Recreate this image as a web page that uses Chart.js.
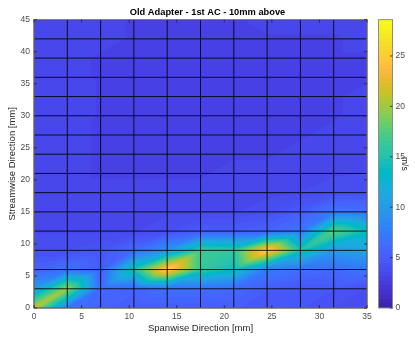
<!DOCTYPE html>
<html>
<head>
<meta charset="utf-8">
<script src="https://cdn.jsdelivr.net/npm/chart.js@4.4.1/dist/chart.umd.min.js"></script>
<style>
  html, body { margin: 0; padding: 0; background: #fff; }
  canvas { display: block; }
</style>
</head>
<body>
<canvas id="chart" width="415" height="340"></canvas>
<script>
// measurement grid [mm]
const xNodes = [0, 3.5, 7, 10.5, 14, 17.5, 21, 24.5, 28, 31.5, 35];
const yNodes = [0, 3, 6, 9, 12, 15, 18, 21, 24, 27, 30, 33, 36, 39, 42, 45];

// velocity magnitude [m/s], one row per streamwise position (y = 0, 3, 6 ...)
const speed = [
  [21.0, 7.0, 5.5, 5.0, 5.0, 5.0, 5.0, 4.5, 4.5, 4.0, 4.0],   // y = 0
  [10.0, 20.0, 6.0, 5.5, 6.5, 6.5, 6.0, 5.0, 4.5, 4.5, 4.0],  // y = 3
  [5.5, 6.5, 5.0, 15.0, 26.0, 16.0, 14.0, 7.5, 6.5, 6.0, 7.0], // y = 6
  [4.0, 4.0, 4.5, 6.0, 9.5, 16.5, 16.0, 26.0, 15.0, 10.0, 11.0], // y = 9
  [3.5, 3.5, 3.5, 3.5, 4.0, 5.0, 5.0, 5.5, 7.0, 18.0, 14.0],  // y = 12
  [3.5, 3.5, 3.5, 3.5, 3.5, 3.5, 3.5, 4.0, 5.0, 7.0, 6.5],    // y = 15
  [3.3, 3.2, 3.2, 3.2, 3.2, 3.2, 3.3, 3.4, 3.6, 4.0, 4.0],    // y = 18
  [3.3, 3.2, 3.1, 3.1, 3.1, 3.1, 3.2, 3.2, 3.3, 3.5, 3.6],    // y = 21
  [3.4, 3.2, 3.1, 3.0, 3.0, 3.1, 3.1, 3.1, 3.2, 3.3, 3.4],    // y = 24
  [3.3, 3.2, 3.1, 3.0, 3.0, 3.0, 3.1, 3.1, 3.1, 3.2, 3.2],    // y = 27
  [3.6, 3.3, 3.1, 3.0, 3.0, 3.0, 3.0, 3.1, 3.1, 3.1, 3.2],    // y = 30
  [3.5, 3.3, 3.1, 3.0, 3.0, 3.0, 3.0, 3.0, 3.1, 3.1, 3.2],    // y = 33
  [3.4, 3.2, 3.1, 3.0, 3.0, 3.0, 3.0, 3.0, 3.0, 3.1, 3.1],    // y = 36
  [3.4, 3.2, 3.1, 3.1, 3.0, 3.0, 3.0, 3.0, 3.0, 3.1, 3.1],    // y = 39
  [3.5, 3.3, 3.2, 3.1, 3.1, 3.0, 3.0, 3.1, 3.1, 3.1, 3.2],    // y = 42
  [3.5, 3.3, 3.2, 3.1, 3.1, 3.1, 3.1, 3.2, 3.2, 3.2, 3.3]     // y = 45
];

const xTicks = [0, 5, 10, 15, 20, 25, 30, 35];
const yTicks = [0, 5, 10, 15, 20, 25, 30, 35, 40, 45];
const cbTicks = [0, 5, 10, 15, 20, 25];
const cMin = 0;
const cMax = 28.6;

// parula, 64 entries
const parula = [
  [0.2422,0.1504,0.6603],[0.2504,0.1650,0.7076],[0.2578,0.1818,0.7511],[0.2647,0.1978,0.7952],
  [0.2706,0.2147,0.8364],[0.2751,0.2342,0.8710],[0.2783,0.2559,0.8991],[0.2803,0.2782,0.9221],
  [0.2813,0.3006,0.9414],[0.2810,0.3228,0.9579],[0.2795,0.3447,0.9717],[0.2760,0.3667,0.9829],
  [0.2699,0.3892,0.9906],[0.2602,0.4123,0.9952],[0.2440,0.4358,0.9988],[0.2206,0.4603,0.9973],
  [0.1963,0.4847,0.9892],[0.1834,0.5074,0.9798],[0.1786,0.5289,0.9682],[0.1764,0.5499,0.9520],
  [0.1687,0.5703,0.9359],[0.1540,0.5902,0.9218],[0.1460,0.6091,0.9079],[0.1380,0.6276,0.8973],
  [0.1248,0.6459,0.8883],[0.1113,0.6635,0.8763],[0.0952,0.6798,0.8598],[0.0689,0.6948,0.8394],
  [0.0297,0.7082,0.8163],[0.0036,0.7203,0.7917],[0.0067,0.7312,0.7660],[0.0433,0.7411,0.7394],
  [0.0964,0.7500,0.7120],[0.1408,0.7584,0.6842],[0.1717,0.7670,0.6554],[0.1938,0.7758,0.6251],
  [0.2161,0.7843,0.5923],[0.2470,0.7918,0.5567],[0.2906,0.7973,0.5188],[0.3406,0.8008,0.4789],
  [0.3909,0.8029,0.4354],[0.4456,0.8024,0.3909],[0.5044,0.7993,0.3480],[0.5616,0.7942,0.3045],
  [0.6174,0.7876,0.2612],[0.6720,0.7793,0.2227],[0.7242,0.7698,0.1910],[0.7738,0.7598,0.1646],
  [0.8203,0.7498,0.1535],[0.8634,0.7406,0.1596],[0.9035,0.7330,0.1774],[0.9393,0.7288,0.2100],
  [0.9728,0.7298,0.2394],[0.9956,0.7434,0.2371],[0.9970,0.7659,0.2199],[0.9952,0.7893,0.2028],
  [0.9892,0.8136,0.1885],[0.9786,0.8386,0.1766],[0.9676,0.8639,0.1643],[0.9610,0.8890,0.1537],
  [0.9597,0.9135,0.1423],[0.9628,0.9373,0.1265],[0.9691,0.9606,0.1064],[0.9769,0.9839,0.0805]
];

const FONT = "'Liberation Sans', Arial, Helvetica, sans-serif";

function colorOf(v) {
  let k = Math.floor((v - cMin) / (cMax - cMin) * parula.length);
  k = Math.max(0, Math.min(parula.length - 1, k));
  return parula[k];
}

// value inside a mesh cell, each quad split into two triangles along
// the lower-left -> upper-right diagonal (gouraud style)
function sample(xv, yv) {
  xv = Math.max(xNodes[0], Math.min(xNodes[xNodes.length - 1], xv));
  yv = Math.max(yNodes[0], Math.min(yNodes[yNodes.length - 1], yv));
  let i = 0;
  while (i < xNodes.length - 2 && xv > xNodes[i + 1]) i++;
  let j = 0;
  while (j < yNodes.length - 2 && yv > yNodes[j + 1]) j++;
  const u = (xv - xNodes[i]) / (xNodes[i + 1] - xNodes[i]);
  const v = (yv - yNodes[j]) / (yNodes[j + 1] - yNodes[j]);
  const f00 = speed[j][i], f10 = speed[j][i + 1];
  const f01 = speed[j + 1][i], f11 = speed[j + 1][i + 1];
  if (u >= v) return f00 + u * (f10 - f00) + v * (f11 - f10);
  return f00 + v * (f01 - f00) + u * (f11 - f01);
}

const surface = {
  id: 'surface',
  beforeDatasetsDraw(chart) {
    const { ctx, chartArea: { left, top, right, bottom }, scales: { x, y } } = chart;
    const w = Math.round(right - left);
    const h = Math.round(bottom - top);

    // interpolated field
    const off = document.createElement('canvas');
    off.width = w;
    off.height = h;
    const octx = off.getContext('2d');
    const img = octx.createImageData(w, h);
    for (let py = 0; py < h; py++) {
      const yv = y.getValueForPixel(top + py + 0.5);
      for (let px = 0; px < w; px++) {
        const xv = x.getValueForPixel(left + px + 0.5);
        const c = colorOf(sample(xv, yv));
        const k = (py * w + px) * 4;
        img.data[k] = c[0] * 255;
        img.data[k + 1] = c[1] * 255;
        img.data[k + 2] = c[2] * 255;
        img.data[k + 3] = 255;
      }
    }
    octx.putImageData(img, 0, 0);
    ctx.drawImage(off, left, top);

    ctx.save();
    // mesh edges
    ctx.strokeStyle = 'rgba(0,0,0,0.85)';
    ctx.lineWidth = 1;
    ctx.beginPath();
    xNodes.forEach(v => {
      const p = x.getPixelForValue(v);
      ctx.moveTo(p, top);
      ctx.lineTo(p, bottom);
    });
    yNodes.forEach(v => {
      const p = y.getPixelForValue(v);
      ctx.moveTo(left, p);
      ctx.lineTo(right, p);
    });
    ctx.stroke();

    // axes box and inward ticks
    ctx.strokeStyle = '#8c8c8c';
    ctx.strokeRect(left, top, right - left, bottom - top);
    ctx.strokeStyle = 'rgba(38,38,38,0.8)';
    ctx.beginPath();
    xTicks.forEach(v => {
      const p = x.getPixelForValue(v);
      ctx.moveTo(p, bottom); ctx.lineTo(p, bottom - 3);
      ctx.moveTo(p, top); ctx.lineTo(p, top + 3);
    });
    yTicks.forEach(v => {
      const p = y.getPixelForValue(v);
      ctx.moveTo(left, p); ctx.lineTo(left + 3, p);
      ctx.moveTo(right, p); ctx.lineTo(right - 3, p);
    });
    ctx.stroke();
    ctx.restore();
  },
  afterDraw(chart) {
    // colour bar along the cb scale
    const { ctx, scales: { cb } } = chart;
    const x0 = cb.left + 11.5;
    const bw = 14;
    const top = cb.top, bottom = cb.bottom;
    ctx.save();
    for (let py = Math.floor(top); py < Math.ceil(bottom); py++) {
      const c = colorOf(cb.getValueForPixel(py + 0.5));
      ctx.fillStyle = `rgb(${c[0] * 255},${c[1] * 255},${c[2] * 255})`;
      const y0 = Math.max(py, top), y1 = Math.min(py + 1, bottom);
      ctx.fillRect(x0, y0, bw, y1 - y0);
    }
    ctx.strokeStyle = '#8c8c8c';
    ctx.lineWidth = 1;
    ctx.strokeRect(x0, top, bw, bottom - top);
    ctx.strokeStyle = 'rgba(38,38,38,0.8)';
    ctx.beginPath();
    cbTicks.forEach(v => {
      const p = cb.getPixelForValue(v);
      ctx.moveTo(x0 + bw, p); ctx.lineTo(x0 + bw - 2.5, p);
    });
    ctx.stroke();
    ctx.restore();
  }
};

const tickFont = { family: FONT, size: 8.5 };
const labelFont = { family: FONT, size: 9.5 };

const nodes = [];
yNodes.forEach((yv, j) => xNodes.forEach((xv, i) => nodes.push({ x: xv, y: yv, v: speed[j][i] })));

new Chart(document.getElementById('chart'), {
  type: 'scatter',
  data: {
    datasets: [{ data: nodes, pointRadius: 0, pointHoverRadius: 0 }]
  },
  options: {
    responsive: false,
    animation: false,
    events: [],
    layout: { padding: 0 },
    plugins: {
      legend: { display: false },
      tooltip: { enabled: false },
      title: {
        display: true,
        text: 'Old Adapter - 1st AC - 10mm above',
        color: '#000',
        font: { family: FONT, size: 9.3, weight: 'bold' },
        padding: { top: 7, bottom: 1.5 }
      }
    },
    scales: {
      x: {
        type: 'linear',
        min: 0,
        max: 35,
        afterFit(s) { s.height = 32; },
        afterBuildTicks(s) { s.ticks = xTicks.map(v => ({ value: v })); },
        grid: { display: false, drawTicks: false },
        border: { display: false },
        ticks: { font: tickFont, color: '#4d4d4d', padding: 4, maxRotation: 0 },
        title: {
          display: true,
          text: 'Spanwise Direction [mm]',
          color: '#262626',
          font: labelFont,
          padding: { top: 0, bottom: 6.3 }
        }
      },
      y: {
        type: 'linear',
        min: 0,
        max: 45,
        afterFit(s) { s.width = 34; },
        afterBuildTicks(s) { s.ticks = yTicks.map(v => ({ value: v })); },
        grid: { display: false, drawTicks: false },
        border: { display: false },
        ticks: { font: tickFont, color: '#4d4d4d', padding: 4 },
        title: {
          display: true,
          text: 'Streamwise Direction [mm]',
          color: '#262626',
          font: labelFont,
          padding: { top: 6.8, bottom: 0 }
        }
      },
      cb: {
        type: 'linear',
        position: 'right',
        min: cMin,
        max: cMax,
        afterFit(s) { s.width = 48; },
        afterBuildTicks(s) { s.ticks = cbTicks.map(v => ({ value: v })); },
        // tickLength only shifts the labels past the bar; no tick lines are drawn
        grid: { display: false, drawTicks: true, tickLength: 25 },
        border: { display: false },
        ticks: { font: tickFont, color: '#4d4d4d', padding: 3.5 },
        title: {
          display: true,
          text: 'm/s',
          color: '#262626',
          font: { family: FONT, size: 8.5 },
          padding: { top: 5.9, bottom: 0 }
        }
      }
    }
  },
  plugins: [surface]
});
</script>
</body>
</html>
